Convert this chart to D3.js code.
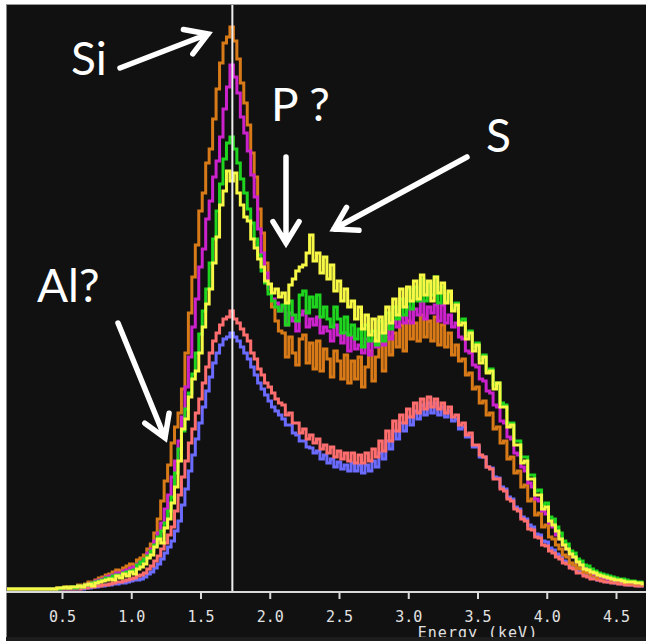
<!DOCTYPE html>
<html>
<head>
<meta charset="utf-8">
<script src="https://cdn.jsdelivr.net/npm/d3@7"></script>
<style>
  body { margin: 0; background: #fff; }
  svg { display: block; }
</style>
</head>
<body>
<div id="spectrum"></div>
<script>
var width = 646;
var height = 641;

// channel calibration of the spectra (keV)
var startEnergy = 0.1;
var channelWidth = 0.025;

var tickValues = [0.5, 1.0, 1.5, 2.0, 2.5, 3.0, 3.5, 4.0, 4.5];
var tickLabels = ["0.5", "1.0", "1.5", "2.0", "2.5", "3.0", "3.5", "4.0", "4.5"];
var markerEnergy = 1.73; // Si K-alpha marker line

// counts per channel, one row = 10 channels (0.25 keV)
var orangeCounts = [
  0,0,0,0,0,0,0,0,0,0,
  0,0,0,0,0,1,1,1,2,2,
  2,4,3,5,7,6,9,11,12,14,
  15,17,19,18,21,23,25,24,29,31,
  34,40,45,56,70,88,108,124,146,162,
  176,200,236,276,312,344,378,396,426,440,
  470,500,526,546,552,562,548,530,506,486,
  464,436,412,380,356,326,300,282,268,258,
  256,232,252,236,224,250,254,226,246,220,
  248,218,240,230,212,238,228,210,234,206,
  228,210,232,202,222,238,208,232,246,218,
  252,234,256,242,264,238,268,250,266,248,
  274,252,268,248,272,244,264,242,256,234,
  244,228,230,214,216,200,202,186,188,174,
  176,160,162,146,148,130,132,116,118,102,
  104,88,90,74,76,62,64,52,50,44,
  40,34,32,26,24,21,20,17,16,14,
  13,11,11,10,10,9,9,8,8,7,
  6,6,5,5,4
];
var magentaCounts = [
  0,0,0,0,0,0,0,0,0,0,
  0,0,0,0,0,0,1,1,1,1,
  1,3,2,4,5,6,8,9,10,12,
  13,14,16,15,18,19,21,22,25,27,
  30,36,40,48,56,66,80,94,112,128,
  148,172,202,232,262,290,322,340,370,388,
  412,428,452,480,502,524,512,496,472,456,
  438,414,392,360,336,316,302,290,286,278,
  282,264,276,268,258,274,278,262,270,264,
  272,256,262,258,248,264,254,246,256,238,
  252,240,244,236,250,234,248,242,256,244,
  264,250,268,262,272,266,282,266,280,274,
  288,270,282,276,284,268,284,266,274,262,
  266,252,250,238,236,224,222,210,208,198,
  196,184,182,168,166,152,150,136,134,122,
  118,106,102,90,88,78,75,66,62,54,
  50,44,40,35,32,27,25,21,20,17,
  15,14,12,11,10,10,9,9,8,8,
  7,7,6,6,5
];
var greenCounts = [
  0,0,0,0,0,0,0,0,0,0,
  0,0,0,0,0,0,1,1,1,2,
  1,3,2,4,4,6,7,8,9,11,
  11,13,14,13,16,17,18,19,24,27,
  30,33,38,44,52,58,66,78,92,116,
  140,158,180,196,215,236,255,278,300,326,
  350,378,405,430,446,452,440,426,410,396,
  380,366,350,334,318,306,295,288,282,278,
  284,264,288,274,268,294,298,276,292,282,
  294,272,282,270,262,282,270,256,272,254,
  264,250,260,242,264,248,258,244,268,248,
  276,260,282,270,290,274,300,280,302,288,
  310,288,306,294,312,286,302,288,296,280,
  286,268,270,254,258,242,246,230,234,218,
  220,204,206,186,184,166,166,148,148,132,
  132,114,114,98,99,84,86,72,70,62,
  56,48,45,38,36,30,28,24,23,20,
  18,16,15,14,13,12,11,10,10,9,
  8,8,7,7,6
];
var yellowCounts = [
  0,0,0,0,0,0,0,0,0,0,
  0,0,0,0,0,1,1,2,1,2,
  2,3,2,4,5,3,6,7,8,9,
  10,9,13,11,15,13,17,15,20,22,
  25,31,34,42,50,46,61,70,86,102,
  128,160,170,192,210,218,236,262,285,300,
  326,352,384,398,418,408,416,396,384,372,
  368,350,341,330,322,308,305,296,300,292,
  296,286,304,310,318,322,324,336,354,328,
  336,316,332,310,324,298,308,288,300,282,
  288,270,282,260,274,254,270,248,272,256,
  282,266,290,274,300,282,302,288,308,290,
  314,294,308,288,312,296,306,286,298,278,
  284,264,266,250,256,238,244,226,232,216,
  218,200,206,182,182,162,164,144,144,126,
  128,110,110,94,94,80,82,68,64,58,
  50,44,40,35,32,27,24,20,19,17,
  16,14,13,12,11,10,9,9,8,7,
  7,7,6,6,5
];
var salmonCounts = [
  0,0,0,0,0,0,0,0,0,0,
  0,0,0,0,0,0,0,0,0,0,
  0,0,1,1,2,2,3,3,4,4,
  5,6,7,7,8,9,10,11,13,14,
  16,20,23,28,33,40,46,54,62,78,
  94,112,128,146,160,176,190,206,222,236,
  248,256,264,270,272,278,270,266,260,254,
  248,236,230,220,214,206,202,196,190,186,
  184,174,176,166,166,156,160,150,154,146,
  150,140,144,136,142,132,138,130,136,128,
  136,126,134,126,136,128,140,132,148,138,
  158,148,168,158,174,166,180,172,186,176,
  190,180,192,182,190,180,186,176,182,172,
  174,164,166,154,156,144,144,134,132,122,
  120,110,110,100,98,90,88,80,78,70,
  68,60,59,52,51,44,43,38,36,32,
  30,26,25,21,20,16,16,13,12,10,
  10,9,8,7,7,6,6,5,5,4,
  4,4,3,3,3
];
var blueCounts = [
  0,0,0,0,0,0,0,0,0,0,
  0,0,0,0,0,0,0,0,0,0,
  0,0,0,1,1,2,2,3,3,4,
  4,5,5,6,6,7,8,9,9,10,
  12,15,17,21,25,30,36,42,48,58,
  68,84,100,118,134,150,166,182,198,212,
  226,236,244,250,252,256,252,248,242,236,
  230,222,214,206,200,194,188,182,178,174,
  170,164,164,156,154,148,148,142,141,136,
  138,130,134,126,130,122,127,120,124,118,
  126,118,124,116,124,118,128,122,136,130,
  148,140,158,150,166,158,172,164,178,170,
  184,174,186,176,186,174,182,172,178,168,
  170,160,162,152,152,142,142,132,132,122,
  121,112,111,102,100,92,90,82,80,72,
  70,64,62,55,54,48,47,41,39,35,
  33,28,27,22,21,18,17,14,13,11,
  11,9,9,8,7,7,6,6,5,5,
  4,4,4,3,3
];

// drawing order: bottom to top
var spectra = [
  { name: "blue", color: "#6b6bff", counts: blueCounts },
  { name: "salmon", color: "#ff6e6e", counts: salmonCounts },
  { name: "orange", color: "#d97a18", counts: orangeCounts },
  { name: "magenta", color: "#cc22cc", counts: magentaCounts },
  { name: "green", color: "#1fd41f", counts: greenCounts },
  { name: "yellow", color: "#f7f745", counts: yellowCounts }
];

// hand-placed annotations
var notes = [
  { text: "Si", x: 71, y: 75 },
  { text: "P ?", x: 271, y: 121 },
  { text: "S", x: 486, y: 152 },
  { text: "Al?", x: 37, y: 302 }
];
var arrows = [
  { from: [120, 68], to: [208, 34] },
  { from: [286, 157], to: [286, 243] },
  { from: [467, 157], to: [334, 229] },
  { from: [118, 323], to: [165, 438] }
];

var panel = { left: 6, top: 4, right: 646, axisY: 592, bottom: 637 };

var svg = d3.select("#spectrum")
  .append("svg")
  .attr("width", width)
  .attr("height", height)
  .attr("viewBox", `0 0 ${width} ${height}`);

svg.append("rect")
  .attr("width", width).attr("height", height)
  .attr("fill", "#fff");

svg.append("rect")
  .attr("x", panel.left).attr("y", panel.top)
  .attr("width", panel.right - panel.left)
  .attr("height", panel.bottom - panel.top)
  .attr("fill", "#111");

var x = d3.scaleLinear().domain([0.5, 4.5]).range([62, 616]);
var y = d3.scaleLinear().domain([0, 560]).range([589, 29]);

svg.append("clipPath").attr("id", "plot-clip")
  .append("rect")
  .attr("x", panel.left).attr("y", panel.top + 1)
  .attr("width", panel.right - panel.left)
  .attr("height", panel.axisY - panel.top - 1);

var line = d3.line()
  .x((d, i) => x(startEnergy + i * channelWidth))
  .y(d => y(d))
  .curve(d3.curveStep);

svg.append("g")
  .attr("clip-path", "url(#plot-clip)")
  .selectAll("path")
  .data(spectra)
  .enter()
  .append("path")
  .attr("class", d => "spectrum " + d.name)
  .attr("d", d => line(d.counts))
  .attr("fill", "none")
  .attr("stroke", d => d.color)
  .attr("stroke-width", 3)
  .attr("stroke-linejoin", "miter");

// Si marker line
svg.append("line")
  .attr("x1", x(markerEnergy)).attr("x2", x(markerEnergy))
  .attr("y1", panel.top).attr("y2", panel.axisY)
  .attr("stroke", "#eee")
  .attr("stroke-width", 2);

// panel border lines
svg.append("line")
  .attr("x1", panel.left).attr("x2", panel.right)
  .attr("y1", panel.top + 0.5).attr("y2", panel.top + 0.5)
  .attr("stroke", "#9a9a9a");
svg.append("line")
  .attr("x1", panel.left + 0.5).attr("x2", panel.left + 0.5)
  .attr("y1", panel.top).attr("y2", panel.bottom)
  .attr("stroke", "#8a8a8a");

// energy axis
var axis = d3.axisBottom(x)
  .tickValues(tickValues)
  .tickFormat((d, i) => tickLabels[i])
  .tickSize(7)
  .tickPadding(12);

var axisG = svg.append("g")
  .attr("transform", `translate(0,${panel.axisY})`)
  .call(axis);

axisG.select(".domain").remove();
axisG.selectAll(".tick line")
  .attr("stroke", "#d8d8d8")
  .attr("stroke-width", 2);
axisG.selectAll(".tick text")
  .attr("fill", "#e2e2e2")
  .style("font-family", "'DejaVu Sans Mono', monospace")
  .style("font-size", "15px");

svg.append("line")
  .attr("x1", panel.left).attr("x2", panel.right)
  .attr("y1", panel.axisY).attr("y2", panel.axisY)
  .attr("stroke", "#d8d8d8")
  .attr("stroke-width", 2);

svg.append("text")
  .attr("x", 478)
  .attr("y", 638)
  .attr("text-anchor", "middle")
  .attr("fill", "#e2e2e2")
  .style("font-family", "'DejaVu Sans Mono', monospace")
  .style("font-size", "15px")
  .style("letter-spacing", "1px")
  .text("Energy (keV)");

// bottom strip cuts the axis title
svg.append("rect")
  .attr("x", panel.left).attr("y", panel.bottom)
  .attr("width", panel.right - panel.left)
  .attr("height", height - panel.bottom)
  .attr("fill", "#1d1d1d");

// annotations
function arrowPath(a) {
  var dx = a.to[0] - a.from[0], dy = a.to[1] - a.from[1];
  var ang = Math.atan2(dy, dx);
  var len = 25, spread = 0.55;
  var p1 = [a.to[0] - len * Math.cos(ang - spread), a.to[1] - len * Math.sin(ang - spread)];
  var p2 = [a.to[0] - len * Math.cos(ang + spread), a.to[1] - len * Math.sin(ang + spread)];
  var p = d3.path();
  p.moveTo(a.from[0], a.from[1]);
  p.lineTo(a.to[0], a.to[1]);
  p.moveTo(p1[0], p1[1]);
  p.lineTo(a.to[0], a.to[1]);
  p.lineTo(p2[0], p2[1]);
  return p.toString();
}

svg.selectAll(".arrow")
  .data(arrows)
  .enter()
  .append("path")
  .attr("class", "arrow")
  .attr("d", arrowPath)
  .attr("fill", "none")
  .attr("stroke", "#fff")
  .attr("stroke-width", 5.5)
  .attr("stroke-linecap", "round")
  .attr("stroke-linejoin", "miter");

svg.selectAll(".note")
  .data(notes)
  .enter()
  .append("text")
  .attr("class", "note")
  .attr("x", d => d.x)
  .attr("y", d => d.y)
  .attr("fill", "#fff")
  .style("font-family", "Lato, 'Open Sans', sans-serif")
  .style("font-size", "46px")
  .text(d => d.text);
</script>
</body>
</html>
